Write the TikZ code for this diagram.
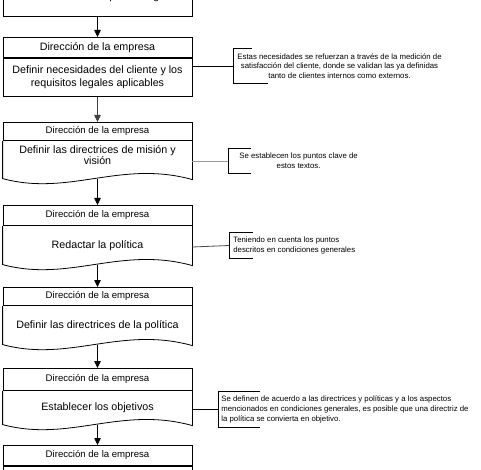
\documentclass[tikz,border=0pt]{standalone}
\usepackage{fontspec}
\setmainfont{Liberation Sans}
\usetikzlibrary{arrows.meta,calc}
\begin{document}
\begin{tikzpicture}[x=1pt,y=-1pt,
  line width=0.8pt,
  box/.style={draw, line width=0.8pt, minimum width=189pt, inner sep=0pt, align=center, anchor=north},
  hdr/.style={box, font=\fontsize{9.6}{11}\selectfont},
  hdrbig/.style={box, font=\fontsize{10.7}{12}\selectfont},
  body/.style={box, font=\fontsize{10.7}{12.4}\selectfont},
  wbody/.style={body, draw=none},
  anno/.style={anchor=west, inner ysep=0pt, font=\fontsize{7.8}{9.6}\selectfont},
  flow/.style={-{Triangle[length=7pt,width=6.5pt]}, line width=0.8pt},
  link/.style={line width=0.8pt},
  bracket/.style={line width=0.8pt}
]
\fill[white] (0,0) rectangle (481,470);
\useasboundingbox (0,0) rectangle (481,470);

% Box 1 (cut at top)
\node[body, minimum height=40pt, anchor=south] (b1) at (97.5,17) {Identificación de requisitos legales};

% Box 2
\node[hdrbig, minimum height=20pt] (h2) at (97.5,37) {Dirección de la empresa};
\node[body, minimum height=38pt] (b2) at (h2.south) {Definir necesidades del cliente y los\\requisitos legales aplicables};

% Box 3
\node[hdr, minimum height=18pt] (h3) at (97.5,122) {Dirección de la empresa};
\node[wbody, minimum height=37pt, font=\fontsize{10.7}{11}\selectfont] (b3) at (h3.south) {Definir las directrices de misión y\\visión\\[-1pt]};

% Box 4
\node[hdr, minimum height=20pt] (h4) at (97.5,205) {Dirección de la empresa};
\node[wbody, minimum height=38pt] (b4) at (h4.south) {Redactar la política};

% Box 5
\node[hdr, minimum height=18pt] (h5) at (97.5,287) {Dirección de la empresa};
\node[wbody, minimum height=38pt] (b5) at (h5.south) {Definir las directrices de la política};

% Box 6
\node[hdr, minimum height=22pt] (h6) at (97.5,368) {Dirección de la empresa};
\node[wbody, minimum height=33pt] (b6) at (h6.south) {Establecer los objetivos};

% Box 7 (cut at bottom)
\node[hdr, minimum height=20pt] (h7) at (97.5,445) {Dirección de la empresa};
\node[body, minimum height=30pt] (b7) at (h7.south) {};

% wavy document bottoms
\foreach \b in {b3,b4,b5,b6}{
  \draw (\b.north west) -- (\b.south west)
    .. controls ($(\b.south west)+(67,18)$) and ($(\b.south east)+(-72,-19)$) .. ($(\b.south east)+(0,1)$)
    -- (\b.north east);
}

% flow arrows
\draw[flow] (b1.south) -- (h2.north);
\draw[flow, draw=black!75, fill=black!75] (b2.south) -- (h3.north);
\draw[flow] (b3.south) -- (h4.north);
\draw[flow] (b4.south) -- (h5.north);
\draw[flow] (b5.south) -- (h6.north);
\draw[flow] (b6.south) -- (h7.north);

% annotations
\node[anno, minimum height=34pt, inner xsep=4pt, align=center] (a2) at (233,66)
  {Estas necesidades se refuerzan a través de la medición de\\satisfacción del cliente, donde se validan las ya definidas\\tanto de clientes internos como externos.};
\node[anno, minimum height=24pt, inner xsep=11pt, align=center] (a3) at (228,161)
  {Se establecen los puntos clave de\\estos textos.};
\node[anno, minimum height=25pt, inner xsep=4pt, align=left] (a4) at (229,245.5)
  {Teniendo en cuenta los puntos\\descritos en condiciones generales};
\node[anno, minimum height=35pt, inner xsep=3pt, align=left] (a6) at (218,409.5)
  {Se definen de acuerdo a las directrices y políticas y a los aspectos\\mencionados en condiciones generales, es posible que una directriz de\\la política se convierta en objetivo.};

% brackets
\draw[bracket] ([xshift=19pt]a2.north west) -- (a2.north west) -- (a2.south west) -- ([xshift=35pt]a2.south west);
\draw[bracket] ([xshift=23pt]a3.north west) -- (a3.north west) -- (a3.south west) -- ([xshift=23pt]a3.south west);
\draw[bracket] ([xshift=24pt]a4.north west) -- (a4.north west) -- (a4.south west) -- ([xshift=24pt]a4.south west);
\draw[bracket] ([xshift=42pt]a6.north west) -- (a6.north west) -- (a6.south west) -- ([xshift=42pt]a6.south west);

% links
\draw[link] (b2.east |- a2.west) -- (a2.west);
\draw[link, draw=black!40] (b3.east |- a3.west) -- (a3.west);
\draw[link, draw=black!70] ($(b4.east |- a4.west)+(0,1.5)$) -- (a4.west);
\draw[link] (b6.east |- a6.west) -- (a6.west);
\end{tikzpicture}
\end{document}
